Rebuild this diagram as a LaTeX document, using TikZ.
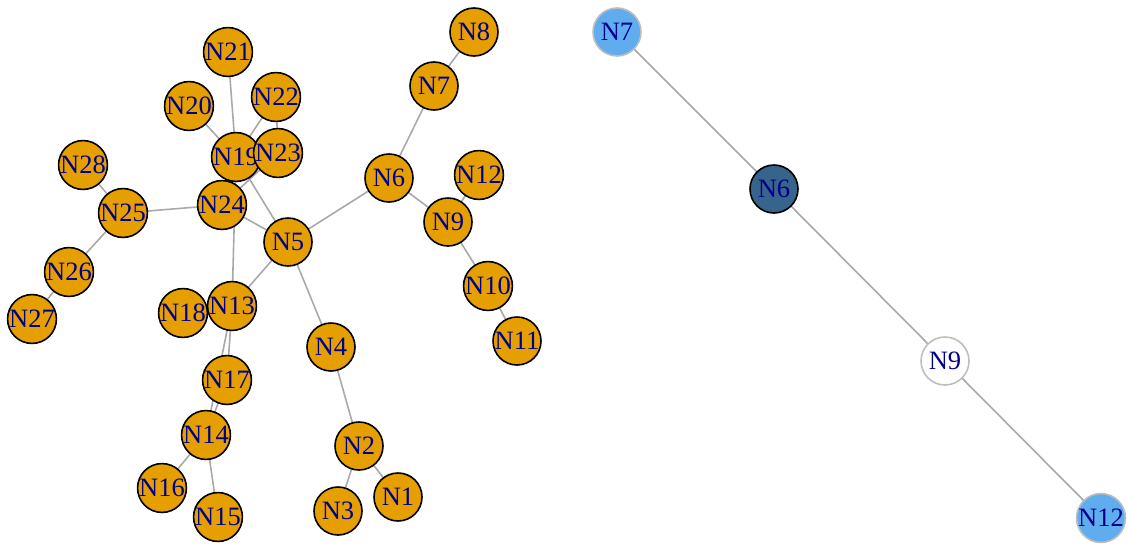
\documentclass[tikz,border=0pt]{standalone}
\usepackage{fontspec}
\setmainfont{Liberation Serif}
\definecolor{orng}{HTML}{E69F00}
\definecolor{lab}{HTML}{00008B}
\definecolor{edg}{HTML}{A9A9A9}
\definecolor{lblue}{HTML}{5FADEE}
\definecolor{dblue}{HTML}{36648B}
\definecolor{gbord}{HTML}{BEBEBE}
\pgfdeclarelayer{bg}
\pgfsetlayers{bg,main}
\begin{document}
\begin{tikzpicture}[x=1pt,y=-1pt,
  vtx/.style={circle,draw=black,line width=1.6pt,fill=orng,minimum size=48pt,inner sep=0pt,text=lab,font=\fontsize{26.5}{27}\selectfont},
  lb/.style={vtx,fill=lblue,draw=gbord},
  db/.style={vtx,fill=dblue,draw=black},
  wt/.style={vtx,fill=white,draw=gbord},
  ed/.style={draw=edg,line width=1.6pt}]
\useasboundingbox (0,0) rectangle (1127,544);
% left graph nodes
\node[vtx] (N8) at (474,32) {N8};
\node[vtx] (N7) at (434,86) {N7};
\node[vtx] (N6) at (389,178) {N6};
\node[vtx] (N12) at (479,175) {N12};
\node[vtx] (N9) at (448,222) {N9};
\node[vtx] (N10) at (488,286) {N10};
\node[vtx] (N11) at (517,341) {N11};
\node[vtx] (N5) at (288,242) {N5};
\node[vtx] (N4) at (331,347) {N4};
\node[vtx] (N2) at (359,446) {N2};
\node[vtx] (N1) at (398,497) {N1};
\node[vtx] (N3) at (338,511) {N3};
\node[vtx] (N21) at (228,52) {N21};
\node[vtx] (N20) at (189,106) {N20};
\node[vtx] (N22) at (276,97) {N22};
\node[vtx] (N28) at (83,165) {N28};
\node[vtx] (N25) at (123,213) {N25};
\node[vtx] (N26) at (69,272) {N26};
\node[vtx] (N27) at (32,319) {N27};
\node[vtx] (N18) at (183,313) {N18};
\node[vtx] (N17) at (227,380) {N17};
\node[vtx] (N14) at (206,435) {N14};
\node[vtx] (N16) at (162,488) {N16};
\node[vtx] (N15) at (218,517) {N15};
\node[vtx] (N13) at (232,306) {N13};
\node[vtx] (N24) at (222,205) {N24};
\node[vtx] (N19) at (236,157) {N19};
\node[vtx] (N23) at (278,153) {N23};
% right graph nodes
\node[lb] (M7) at (617,32) {N7};
\node[db] (M6) at (774,189) {N6};
\node[wt] (M9) at (945,361) {N9};
\node[lb] (M12) at (1101,518) {N12};
% edges behind the nodes
\begin{pgfonlayer}{bg}
\foreach \a/\b in {N8/N7,N7/N6,N6/N5,N6/N9,N9/N12,N9/N10,N10/N11,N5/N4,N4/N2,N2/N3,N2/N1,N5/N13,N5/N24,N5/N19,N24/N25,N25/N28,N25/N26,N26/N27,N19/N13,N19/N20,N19/N21,N19/N22,N22/N23,N24/N23,N13/N17,N13/N14,N17/N14,N14/N16,N14/N15,M7/M6,M6/M9,M9/M12}
  \draw[ed] (\a.center) -- (\b.center);
\end{pgfonlayer}
\end{tikzpicture}
\end{document}
